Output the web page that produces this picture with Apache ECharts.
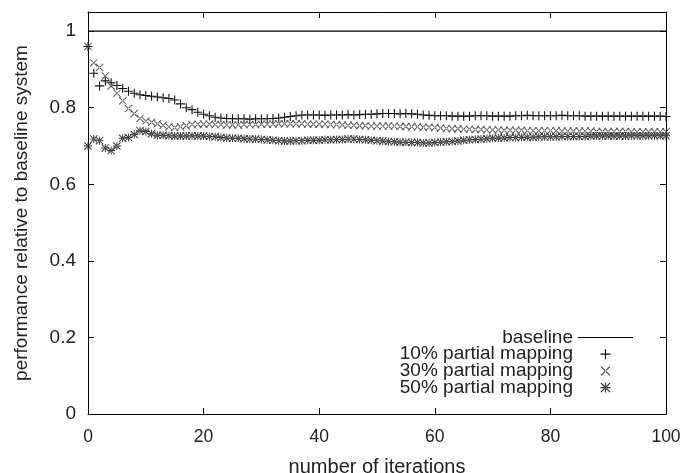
<!DOCTYPE html>
<html lang="en">
<head>
    <meta charset="UTF-8">
    <script src="https://cdn.jsdelivr.net/npm/echarts@6/dist/echarts.min.js"></script>
    <title>partial mapping</title>
    <style>
        html, body { margin: 0; padding: 0; background: #fff; }
        #chart { width: 680px; height: 473px; }
    </style>
</head>
<body>
    <div id="chart"></div>
    <script>
        // iterations 0..100
        let iterations = []
        for (let i = 0; i <= 100; i++) iterations.push(i)

        let baseline = [1, 1]

        let p10 = [
            0.960, 0.890, 0.857, 0.870, 0.865, 0.858, 0.850, 0.843, 0.838, 0.834,
            0.832, 0.830, 0.828, 0.826, 0.824, 0.820, 0.810, 0.800, 0.795, 0.788,
            0.783, 0.779, 0.775, 0.773, 0.772, 0.771, 0.771, 0.771, 0.770, 0.771,
            0.771, 0.771, 0.772, 0.773, 0.775, 0.777, 0.779, 0.781, 0.781, 0.781,
            0.781, 0.780, 0.781, 0.781, 0.781, 0.782, 0.781, 0.782, 0.783, 0.783,
            0.784, 0.785, 0.785, 0.785, 0.784, 0.785, 0.784, 0.783, 0.781, 0.780,
            0.779, 0.779, 0.779, 0.778, 0.778, 0.778, 0.778, 0.779, 0.779, 0.779,
            0.778, 0.778, 0.778, 0.778, 0.779, 0.779, 0.780, 0.779, 0.779, 0.779,
            0.779, 0.779, 0.780, 0.779, 0.779, 0.779, 0.778, 0.778, 0.778, 0.778,
            0.778, 0.778, 0.778, 0.778, 0.778, 0.778, 0.778, 0.778, 0.778, 0.778,
            0.777
        ]

        let p30 = [
            0.960, 0.917, 0.905, 0.883, 0.857, 0.838, 0.818, 0.798, 0.785, 0.772,
            0.765, 0.762, 0.758, 0.754, 0.750, 0.748, 0.750, 0.753, 0.756, 0.757,
            0.757, 0.757, 0.756, 0.756, 0.755, 0.755, 0.755, 0.756, 0.756, 0.756,
            0.757, 0.757, 0.757, 0.758, 0.758, 0.758, 0.758, 0.758, 0.757, 0.757,
            0.757, 0.757, 0.756, 0.756, 0.755, 0.754, 0.754, 0.753, 0.753, 0.752,
            0.752, 0.752, 0.752, 0.752, 0.751, 0.751, 0.750, 0.750, 0.749, 0.749,
            0.748, 0.747, 0.746, 0.745, 0.745, 0.744, 0.744, 0.743, 0.743, 0.742,
            0.742, 0.742, 0.741, 0.741, 0.741, 0.741, 0.740, 0.740, 0.740, 0.740,
            0.740, 0.740, 0.739, 0.739, 0.739, 0.739, 0.739, 0.739, 0.738, 0.738,
            0.738, 0.738, 0.738, 0.738, 0.737, 0.737, 0.737, 0.737, 0.737, 0.737,
            0.737
        ]

        let p50 = [
            0.700, 0.718, 0.714, 0.695, 0.688, 0.700, 0.720, 0.722, 0.730, 0.740,
            0.738, 0.732, 0.728, 0.728, 0.727, 0.726, 0.726, 0.726, 0.727, 0.726,
            0.726, 0.725, 0.724, 0.722, 0.721, 0.720, 0.720, 0.719, 0.718, 0.718,
            0.717, 0.716, 0.715, 0.714, 0.713, 0.713, 0.714, 0.714, 0.715, 0.715,
            0.715, 0.716, 0.716, 0.717, 0.717, 0.718, 0.718, 0.717, 0.716, 0.715,
            0.714, 0.713, 0.712, 0.711, 0.710, 0.710, 0.709, 0.709, 0.708, 0.708,
            0.709, 0.710, 0.711, 0.712, 0.713, 0.715, 0.716, 0.717, 0.718, 0.719,
            0.720, 0.721, 0.721, 0.722, 0.722, 0.723, 0.723, 0.723, 0.724, 0.724,
            0.724, 0.724, 0.725, 0.725, 0.725, 0.725, 0.725, 0.726, 0.726, 0.726,
            0.726, 0.726, 0.726, 0.726, 0.727, 0.727, 0.727, 0.727, 0.727, 0.727,
            0.727
        ]

        let xTicks = { min: 0, max: 100, interval: 20 }
        let yTicks = { min: 0, max: 1.05, interval: 0.2 }

        // gnuplot style point shapes
        let plusPath = 'path://M0,4.4H10V5.6H0Z M4.4,0H5.6V10H4.4Z'
        let crossPath = 'path://M0,0.85L0.85,0L10,9.15L9.15,10Z M10,0.85L9.15,0L0,9.15L0.85,10Z'
        let starPath = 'path://M0,4.4H10V5.6H0Z M4.4,0H5.6V10H4.4Z M0,0.85L0.85,0L10,9.15L9.15,10Z M10,0.85L9.15,0L0,9.15L0.85,10Z'
        // legend sample for the baseline: a thin line
        let linePath = 'path://M0,0H100V2H0Z'

        let textColor = '#222'
        let font = 'Liberation Sans'

        function pairs(vals) {
            return vals.map((v, i) => [iterations[i], v])
        }

        let mirrorAxis = {
            axisLine: { show: true, onZero: false, lineStyle: { color: '#000', width: 1 } },
            axisTick: { show: true, inside: true, length: 6, lineStyle: { color: '#000' } },
            axisLabel: { show: false },
            splitLine: { show: false }
        }

        let myChart = echarts.init(document.getElementById('chart'), null, { renderer: 'canvas' })
        let option = {
            animation: false,
            backgroundColor: '#fff',
            grid: { left: 88, right: 14, top: 12, bottom: 59, containLabel: false, outerBoundsMode: 'none' },
            legend: {
                orient: 'vertical',
                align: 'right',
                right: 42,
                top: 323,
                itemGap: -2.3,
                itemWidth: 55,
                itemHeight: 10,
                symbolKeepAspect: true,
                textStyle: { color: textColor, fontSize: 19, fontFamily: font },
                data: [
                    { name: 'baseline', icon: linePath },
                    { name: '10% partial mapping' },
                    { name: '30% partial mapping' },
                    { name: '50% partial mapping' }
                ]
            },
            xAxis: [{
                type: 'value',
                min: xTicks.min, max: xTicks.max, interval: xTicks.interval,
                name: 'number of iterations',
                nameLocation: 'middle',
                nameGap: 43,
                nameTextStyle: { color: textColor, fontSize: 20, fontFamily: font },
                axisLine: { onZero: false, lineStyle: { color: '#000', width: 1 } },
                axisTick: { inside: true, length: 6, lineStyle: { color: '#000' } },
                axisLabel: { color: textColor, fontSize: 17.5, fontFamily: font, margin: 14 },
                splitLine: { show: false }
            }, Object.assign({
                type: 'value', position: 'top',
                min: xTicks.min, max: xTicks.max, interval: xTicks.interval
            }, mirrorAxis)],
            yAxis: [{
                type: 'value',
                min: yTicks.min, max: yTicks.max, interval: yTicks.interval,
                name: 'performance relative to baseline system',
                nameLocation: 'middle',
                nameGap: 57,
                nameTextStyle: { color: textColor, fontSize: 19, fontFamily: font },
                axisLine: { show: true, onZero: false, lineStyle: { color: '#000', width: 1 } },
                axisTick: { show: true, inside: true, length: 6, lineStyle: { color: '#000' } },
                axisLabel: { color: textColor, fontSize: 19, fontFamily: font, margin: 12, showMaxLabel: false },
                splitLine: { show: false }
            }, Object.assign({
                type: 'value', position: 'right',
                min: yTicks.min, max: yTicks.max, interval: yTicks.interval
            }, mirrorAxis)],
            series: [{
                name: 'baseline',
                type: 'line',
                data: [[xTicks.min, baseline[0]], [xTicks.max, baseline[1]]],
                showSymbol: false,
                symbol: 'none',
                lineStyle: { color: '#000', width: 1.3 },
                itemStyle: { color: '#000' }
            }, {
                name: '10% partial mapping',
                type: 'scatter',
                data: pairs(p10),
                symbol: plusPath,
                symbolSize: 9,
                itemStyle: { color: '#111', opacity: 1 }
            }, {
                name: '30% partial mapping',
                type: 'scatter',
                data: pairs(p30),
                symbol: crossPath,
                symbolSize: 8,
                itemStyle: { color: '#555', opacity: 1 }
            }, {
                name: '50% partial mapping',
                type: 'scatter',
                data: pairs(p50),
                symbol: starPath,
                symbolSize: 8,
                itemStyle: { color: '#333', opacity: 1 }
            }]
        }
        myChart.setOption(option)
    </script>
</body>
</html>
